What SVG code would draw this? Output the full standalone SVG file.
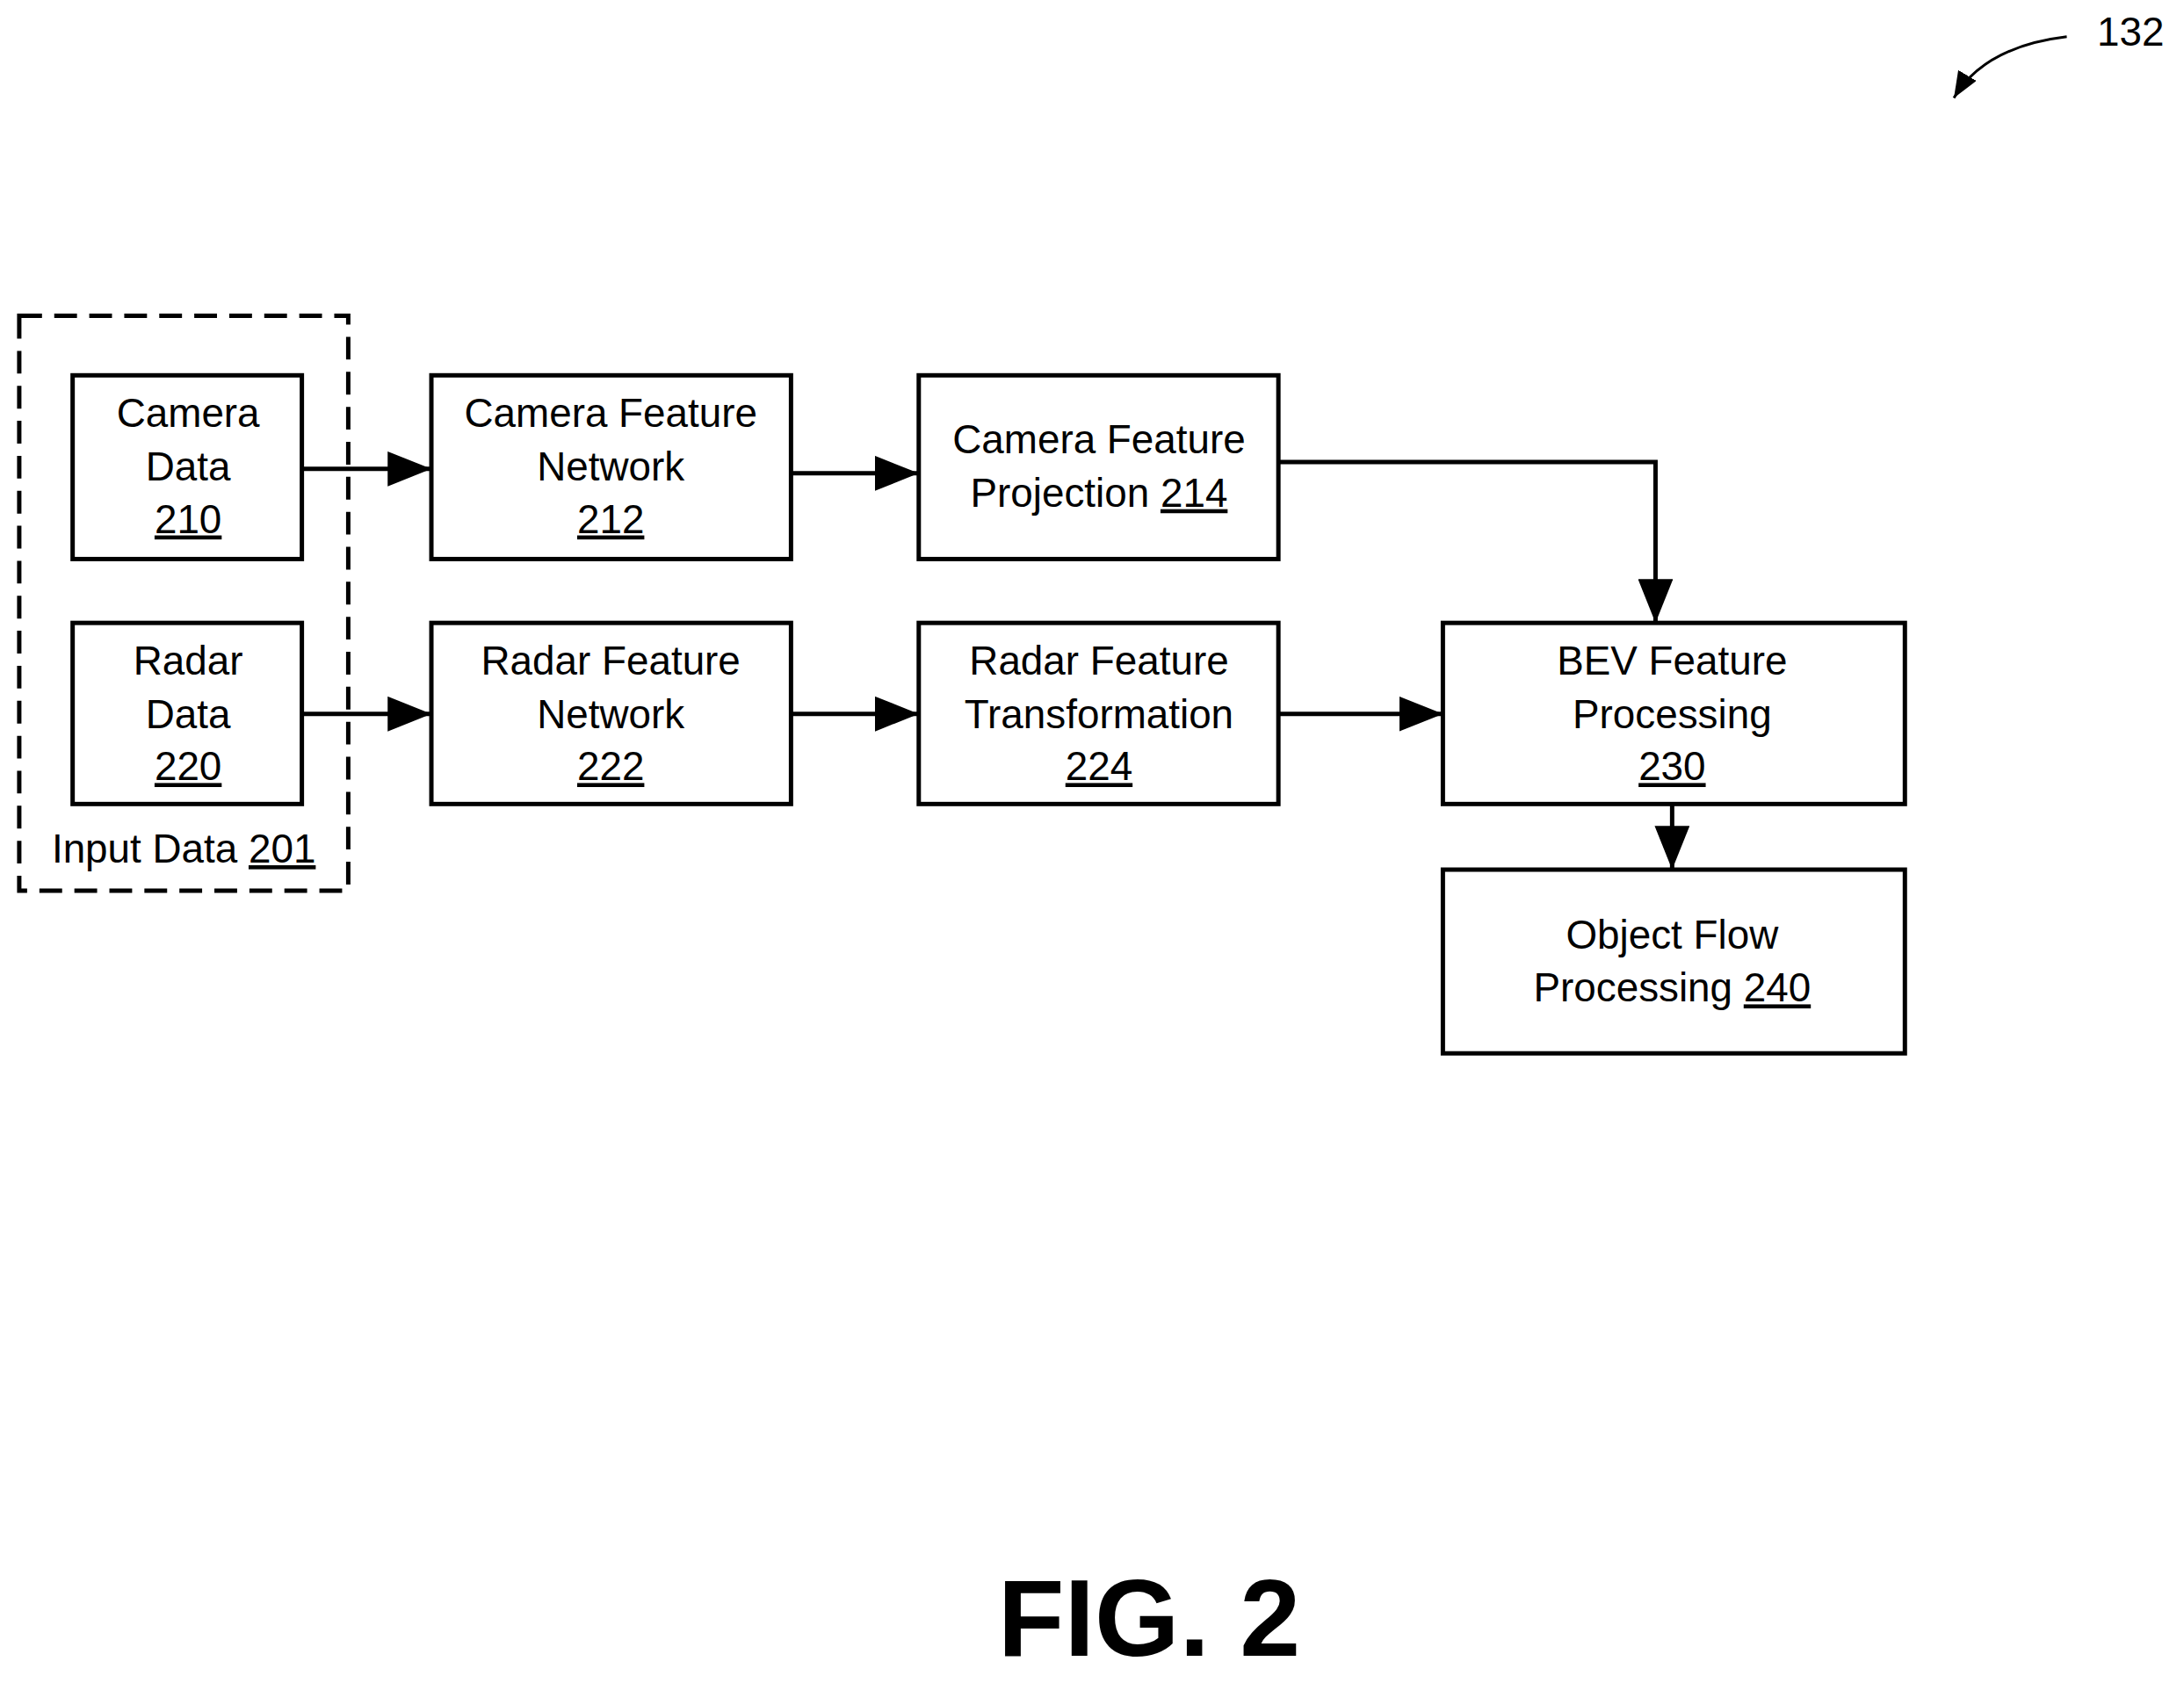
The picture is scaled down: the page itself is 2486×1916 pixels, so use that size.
<svg xmlns="http://www.w3.org/2000/svg" width="2486" height="1916" viewBox="0 0 2486 1916">
<style>
.b{fill:#fff;stroke:#000;stroke-width:5}
text{font-family:"Liberation Sans",Arial,sans-serif;font-size:46px;text-anchor:middle;fill:#000}
.u{text-decoration:underline}
.c{fill:none;stroke:#000;stroke-width:5}
</style>
<defs><marker id="a" markerWidth="10" markerHeight="8" refX="10" refY="4" orient="auto" markerUnits="strokeWidth"><path d="M0,0L10,4L0,8z"/></marker></defs>
<rect width="2486" height="1916" fill="#fff"/>
<g transform="scale(0.996)">
<g id="input201"><rect x="22" y="361" width="376" height="657" fill="none" stroke="#000" stroke-width="5" stroke-dasharray="26,14"/><text x="210" y="986">Input Data <tspan class="u">201</tspan></text></g>
<g id="n210"><rect class="b" x="83" y="429" width="262" height="210"/><text x="215" y="488">Camera</text><text x="215" y="549">Data</text><text x="215" y="609" class="u">210</text></g>
<g id="n220"><rect class="b" x="83" y="712" width="262" height="207"/><text x="215" y="771">Radar</text><text x="215" y="832">Data</text><text x="215" y="892" class="u">220</text></g>
<g id="n212"><rect class="b" x="493" y="429" width="411" height="210"/><text x="698" y="488">Camera Feature</text><text x="698" y="549">Network</text><text x="698" y="609" class="u">212</text></g>
<g id="n222"><rect class="b" x="493" y="712" width="411" height="207"/><text x="698" y="771">Radar Feature</text><text x="698" y="832">Network</text><text x="698" y="892" class="u">222</text></g>
<g id="n214"><rect class="b" x="1050" y="429" width="411" height="210"/><text x="1256" y="518">Camera Feature</text><text x="1256" y="579">Projection <tspan class="u">214</tspan></text></g>
<g id="n224"><rect class="b" x="1050" y="712" width="411" height="207"/><text x="1256" y="771">Radar Feature</text><text x="1256" y="832">Transformation</text><text x="1256" y="892" class="u">224</text></g>
<g id="n230"><rect class="b" x="1649" y="712" width="528" height="207"/><text x="1911" y="771">BEV Feature</text><text x="1911" y="832">Processing</text><text x="1911" y="892" class="u">230</text></g>
<g id="n240"><rect class="b" x="1649" y="994" width="528" height="210"/><text x="1911" y="1084">Object Flow</text><text x="1911" y="1145">Processing <tspan class="u">240</tspan></text></g>
<g id="connectors">
<path class="c" d="M345,536H493" marker-end="url(#a)"/>
<path class="c" d="M904,541H1050" marker-end="url(#a)"/>
<path class="c" d="M345,816H493" marker-end="url(#a)"/>
<path class="c" d="M904,816H1050" marker-end="url(#a)"/>
<path class="c" d="M1461,816H1649" marker-end="url(#a)"/>
<path class="c" d="M1461,528H1892V712" marker-end="url(#a)"/>
<path class="c" d="M1911,919V994" marker-end="url(#a)"/>
<path d="M2362,42C2295,50 2255,75 2233,112" fill="none" stroke="#000" stroke-width="3" marker-end="url(#a)"/>
</g>
<text x="2435" y="52">132</text>
</g>
<text x="1308" y="1885" style="font-size:124px;font-weight:bold">FIG. 2</text>
</svg>
